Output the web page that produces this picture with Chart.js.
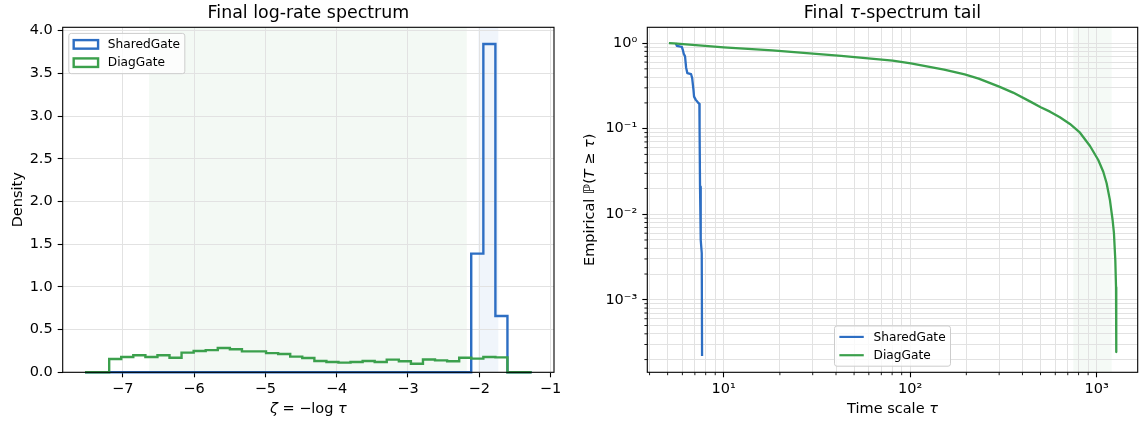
<!DOCTYPE html>
<html>
<head>
<meta charset="utf-8">
<title>Final spectra</title>
<script src="https://cdn.jsdelivr.net/npm/chart.js@4/dist/chart.umd.min.js"></script>
<style>
  html, body { margin: 0; padding: 0; background: #fff; }
  #wrap { position: relative; width: 1142px; height: 423px; }
  canvas { position: absolute; top: 0; }
  #spectrum { left: 0; }
  #tail { left: 580px; }
</style>
</head>
<body>
<div id="wrap">
  <canvas id="spectrum" width="580" height="423"></canvas>
  <canvas id="tail" width="562" height="423"></canvas>
</div>
<script>
// log-rate histogram, zeta = -log tau, bins shared by both gates
const binEdges = [-7.529, -7.360, -7.190, -7.021, -6.852, -6.682, -6.513, -6.344, -6.175, -6.005,
  -5.836, -5.667, -5.497, -5.328, -5.159, -4.990, -4.820, -4.651, -4.482, -4.312,
  -4.143, -3.974, -3.805, -3.635, -3.466, -3.297, -3.127, -2.958, -2.789, -2.620,
  -2.450, -2.281, -2.112, -1.942, -1.773, -1.604, -1.434, -1.265];
const sharedDensity = [0, 0, 0, 0, 0, 0, 0, 0, 0, 0, 0, 0, 0, 0, 0, 0, 0, 0, 0, 0,
  0, 0, 0, 0, 0, 0, 0, 0, 0, 0, 0, 0, 1.39, 3.845, 0.66, 0, 0];
const diagDensity = [0, 0, 0.155, 0.18, 0.20, 0.18, 0.20, 0.17, 0.23, 0.25,
  0.26, 0.285, 0.27, 0.245, 0.245, 0.225, 0.215, 0.184, 0.168, 0.133,
  0.121, 0.113, 0.121, 0.133, 0.12, 0.148, 0.13, 0.10, 0.15, 0.14,
  0.13, 0.17, 0.16, 0.18, 0.175, 0, 0];
const zetaTicks = [-7, -6, -5, -4, -3, -2, -1];
const densityTicks = [0, 0.5, 1, 1.5, 2, 2.5, 3, 3.5, 4];

// empirical survival P(T >= tau) of the time scales
const sharedTau = [5.53, 5.6, 5.96, 6.03, 6.10, 6.20, 6.28, 6.38, 6.68, 6.77, 6.88,
  6.93, 7.08, 7.26, 7.40, 7.42, 7.46, 7.50, 7.55, 7.62, 7.65];
const sharedSurv = [1.0, 0.93, 0.905, 0.835, 0.75, 0.70, 0.52, 0.445, 0.433, 0.39, 0.284,
  0.237, 0.217, 0.203, 0.195, 0.096, 0.021, 0.0065, 0.005, 0.0035, 0.00022];
const diagTau = [5.08, 5.4, 10, 18.2, 42.6, 80.5, 100.8, 152, 196, 233, 300, 356, 441, 501,
  562, 635, 719, 814, 921, 1020, 1085, 1131, 1178, 1218, 1238, 1259, 1270, 1274];
const diagSurv = [1.0, 0.99, 0.89, 0.82, 0.71, 0.625, 0.58, 0.49, 0.43, 0.385, 0.31, 0.264, 0.207, 0.178,
  0.158, 0.136, 0.1135, 0.0897, 0.0627, 0.043, 0.0314, 0.023, 0.0146, 0.0085, 0.006, 0.0029, 0.0014, 0.000245];
const tauMajor = [10, 100, 1000];
const tauMinor = [4, 5, 6, 7, 8, 9, 20, 30, 40, 50, 60, 70, 80, 90, 200, 300, 400, 500, 600, 700, 800, 900];
const survMajor = [0.001, 0.01, 0.1, 1];
const survMinor = [1e-4, 1e-3, 1e-2, 1e-1].flatMap(d => [2, 3, 4, 5, 6, 7, 8, 9].map(m => m * d));

// shaded bulk ranges
const diagBandZeta = [-6.63, -2.175];
const sharedBandZeta = [-2.013, -1.732];
const diagBandTau = [750, 1203];

const BLUE = '#2d6ec3';
const GREEN = '#3ba04c';
const GRID = '#e2e2e2';
const FONT = "'DejaVu Sans', sans-serif";
const FS = 14.5;        // ticks and axis labels
const FS_TITLE = 17.4;
const FS_LEG = 12.2;

Chart.defaults.font.family = FONT;
Chart.defaults.font.size = FS;
Chart.defaults.color = '#000';

// outline of a step histogram, read with stepped lines
function stepOutline(edges, heights) {
  const pts = [{x: edges[0], y: 0}];
  heights.forEach((h, i) => pts.push({x: edges[i], y: h}));
  pts.push({x: edges[edges.length - 1], y: 0});
  return pts;
}

function zip(xs, ys) {
  return xs.map((x, i) => ({x, y: ys[i]}));
}

const SUP = {'0': '⁰', '1': '¹', '2': '²', '3': '³', '4': '⁴', '-': '⁻'};
function powLabel(v) {
  const e = Math.round(Math.log10(v));
  if (Math.abs(v - Math.pow(10, e)) > 1e-9 * v) return '';
  return '10' + String(e).split('').map(c => SUP[c]).join('');
}

// text with italic pieces, centred on (x, y)
function richText(ctx, parts, x, y, size, angle) {
  ctx.save();
  ctx.translate(x, y);
  if (angle) ctx.rotate(angle);
  ctx.textBaseline = 'middle';
  ctx.textAlign = 'left';
  ctx.fillStyle = '#000';
  const font = p => (p.i ? 'italic ' : '') + size + 'px ' + FONT;
  let total = 0;
  parts.forEach(p => { ctx.font = font(p); total += ctx.measureText(p.t).width; });
  let cx = -total / 2;
  parts.forEach(p => { ctx.font = font(p); ctx.fillText(p.t, cx, 0); cx += ctx.measureText(p.t).width; });
  ctx.restore();
}

function bandsPlugin(bands) {
  return {
    id: 'bands',
    beforeDraw(chart) {
      const {ctx, chartArea: a, scales: {x}} = chart;
      ctx.save();
      bands.forEach(b => {
        const x0 = x.getPixelForValue(b.range[0]);
        const x1 = x.getPixelForValue(b.range[1]);
        ctx.fillStyle = b.color;
        ctx.fillRect(x0, a.top, x1 - x0, a.bottom - a.top);
      });
      ctx.restore();
    }
  };
}

const framePlugin = {
  id: 'frame',
  afterDatasetsDraw(chart) {
    const {ctx, chartArea: a} = chart;
    ctx.save();
    ctx.strokeStyle = '#000';
    ctx.lineWidth = 1.1;
    ctx.strokeRect(a.left, a.top, a.right - a.left, a.bottom - a.top);
    ctx.restore();
  }
};

const minorTicksPlugin = {
  id: 'minorTicks',
  afterDraw(chart) {
    const {ctx, chartArea: a, scales: {x, y}} = chart;
    ctx.save();
    ctx.strokeStyle = '#000';
    ctx.lineWidth = 0.9;
    ctx.beginPath();
    tauMinor.forEach(v => {
      const px = x.getPixelForValue(v);
      ctx.moveTo(px, a.bottom); ctx.lineTo(px, a.bottom + 2.9);
    });
    survMinor.forEach(v => {
      if (v < y.min || v > y.max) return;
      const py = y.getPixelForValue(v);
      ctx.moveTo(a.left, py); ctx.lineTo(a.left - 2.9, py);
    });
    ctx.stroke();
    ctx.restore();
  }
};

function legendPlugin(loc, handle) {
  return {
    id: 'boxLegend',
    afterDatasetsDraw(chart) {
      const {ctx, chartArea: a} = chart;
      const f = FS_LEG;
      const pad = 0.4 * f, gap = 0.5 * f, hl = 2 * f, htp = 0.8 * f, axPad = 0.5 * f;
      const items = chart.data.datasets.map(d => ({label: d.label, color: d.borderColor}));
      ctx.save();
      ctx.font = f + 'px ' + FONT;
      const textW = Math.max(...items.map(it => ctx.measureText(it.label).width));
      const w = 2 * pad + hl + htp + textW;
      const h = 2 * pad + items.length * f + (items.length - 1) * gap;
      let x0, y0;
      if (loc === 'upper left') {
        x0 = a.left + axPad; y0 = a.top + axPad;
      } else {
        x0 = (a.left + a.right) / 2 - w / 2; y0 = a.bottom - axPad - h;
      }
      ctx.beginPath();
      ctx.roundRect(x0, y0, w, h, 0.2 * f);
      ctx.fillStyle = 'rgba(255,255,255,0.8)';
      ctx.fill();
      ctx.strokeStyle = '#cccccc';
      ctx.lineWidth = 1;
      ctx.stroke();
      items.forEach((it, i) => {
        const cy = y0 + pad + f / 2 + i * (f + gap);
        const hx = x0 + pad;
        ctx.strokeStyle = it.color;
        if (handle === 'box') {
          ctx.lineWidth = 2.4;
          ctx.strokeRect(hx, cy - 0.35 * f, hl, 0.7 * f);
        } else {
          ctx.lineWidth = 2.2;
          ctx.beginPath(); ctx.moveTo(hx, cy); ctx.lineTo(hx + hl, cy); ctx.stroke();
        }
        ctx.fillStyle = '#000';
        ctx.textBaseline = 'middle';
        ctx.textAlign = 'left';
        ctx.fillText(it.label, hx + hl + htp, cy + 0.5);
      });
      ctx.restore();
    }
  };
}

function labelsPlugin(title, xTitle, yTitle, yTitleX) {
  return {
    id: 'axisText',
    afterDraw(chart) {
      const {ctx, chartArea: a} = chart;
      const cx = (a.left + a.right) / 2;
      const cy = (a.top + a.bottom) / 2;
      richText(ctx, title, cx, 13, FS_TITLE, 0);
      richText(ctx, xTitle, cx, 409, FS, 0);
      richText(ctx, yTitle, yTitleX, cy, FS, -Math.PI / 2);
    }
  };
}

function axisStyle(extra) {
  return Object.assign({
    border: {display: false},
    grid: {color: GRID, lineWidth: 1, tickLength: 5, tickColor: '#000', tickWidth: 1.1},
    ticks: {autoSkip: false, maxRotation: 0, padding: 3.5, color: '#000', font: {size: FS, family: FONT}}
  }, extra);
}

new Chart(document.getElementById('spectrum'), {
  type: 'line',
  data: {
    datasets: [
      {label: 'SharedGate', data: stepOutline(binEdges, sharedDensity), borderColor: BLUE,
       backgroundColor: 'rgba(0,0,0,0)', borderWidth: 2.4, pointRadius: 0, stepped: true,
       fill: false, clip: 4, order: 2, borderJoinStyle: 'miter'},
      {label: 'DiagGate', data: stepOutline(binEdges, diagDensity), borderColor: GREEN,
       backgroundColor: 'rgba(0,0,0,0)', borderWidth: 2.4, pointRadius: 0, stepped: true,
       fill: false, clip: 4, order: 1, borderJoinStyle: 'miter'}
    ]
  },
  options: {
    responsive: false,
    animation: false,
    events: [],
    layout: {padding: {left: 0, right: 26, top: 27.3, bottom: 0}},
    scales: {
      x: axisStyle({
        type: 'linear', min: -7.842, max: -0.951,
        afterBuildTicks: s => { s.ticks = zetaTicks.map(v => ({value: v})); },
        afterFit: s => { s.height = 50.7; },
        ticks: {autoSkip: false, maxRotation: 0, padding: 3.5, color: '#000',
                callback: v => String(v).replace('-', '\u2212')}
      }),
      y: axisStyle({
        type: 'linear', min: 0, max: 4.04,
        afterBuildTicks: s => { s.ticks = densityTicks.map(v => ({value: v})); },
        afterFit: s => { s.width = 62.7; },
        ticks: {autoSkip: false, padding: 5, color: '#000', callback: v => v.toFixed(1)}
      })
    },
    plugins: {legend: {display: false}, tooltip: {enabled: false}, title: {display: false}}
  },
  plugins: [
    bandsPlugin([
      {range: diagBandZeta, color: 'rgba(59,160,76,0.06)'},
      {range: sharedBandZeta, color: 'rgba(45,110,195,0.07)'}
    ]),
    framePlugin,
    legendPlugin('upper left', 'box'),
    labelsPlugin(
      [{t: 'Final log-rate spectrum'}],
      [{t: 'ζ', i: true}, {t: ' = \u2212log '}, {t: 'τ', i: true}],
      [{t: 'Density'}],
      18)
  ]
});

const tauTicks = tauMajor.concat(tauMinor).sort((p, q) => p - q);
const survTicks = survMajor.concat(survMinor).sort((p, q) => p - q);
const isPow = v => powLabel(v) !== '';

new Chart(document.getElementById('tail'), {
  type: 'line',
  data: {
    datasets: [
      {label: 'SharedGate', data: zip(sharedTau, sharedSurv), borderColor: BLUE,
       borderWidth: 2.3, pointRadius: 0, fill: false, clip: 4, order: 2,
       borderJoinStyle: 'round', tension: 0},
      {label: 'DiagGate', data: zip(diagTau, diagSurv), borderColor: GREEN,
       borderWidth: 2.3, pointRadius: 0, fill: false, clip: 4, order: 1,
       borderJoinStyle: 'round', tension: 0}
    ]
  },
  options: {
    responsive: false,
    animation: false,
    events: [],
    layout: {padding: {left: 0, right: 4.3, top: 27.3, bottom: 0}},
    scales: {
      x: axisStyle({
        type: 'logarithmic', min: 3.89, max: 1660,
        afterBuildTicks: s => { s.ticks = tauTicks.map(v => ({value: v})); },
        afterFit: s => { s.height = 50.7; },
        grid: {color: GRID, lineWidth: 1, tickLength: 5, tickWidth: 1.1,
               tickColor: c => (c.tick && isPow(c.tick.value)) ? '#000' : 'rgba(0,0,0,0)'},
        ticks: {autoSkip: false, maxRotation: 0, padding: 3.5, color: '#000', callback: v => powLabel(v)}
      }),
      y: axisStyle({
        type: 'logarithmic', min: 1.42e-4, max: 1.53,
        afterBuildTicks: s => { s.ticks = survTicks.filter(v => v >= 1.42e-4 && v <= 1.53).map(v => ({value: v})); },
        afterFit: s => { s.width = 67.3; },
        grid: {color: GRID, lineWidth: 1, tickLength: 5, tickWidth: 1.1,
               tickColor: c => (c.tick && isPow(c.tick.value)) ? '#000' : 'rgba(0,0,0,0)'},
        ticks: {autoSkip: false, padding: 5, color: '#000', callback: v => powLabel(v)}
      })
    },
    plugins: {legend: {display: false}, tooltip: {enabled: false}, title: {display: false}}
  },
  plugins: [
    bandsPlugin([{range: diagBandTau, color: 'rgba(59,160,76,0.05)'}]),
    framePlugin,
    minorTicksPlugin,
    legendPlugin('lower center', 'line'),
    labelsPlugin(
      [{t: 'Final '}, {t: 'τ', i: true}, {t: '-spectrum tail'}],
      [{t: 'Time scale '}, {t: 'τ', i: true}],
      [{t: 'Empirical ℙ('}, {t: 'T', i: true}, {t: ' ≥ '}, {t: 'τ', i: true}, {t: ')'}],
      10)
  ]
});
</script>
</body>
</html>
